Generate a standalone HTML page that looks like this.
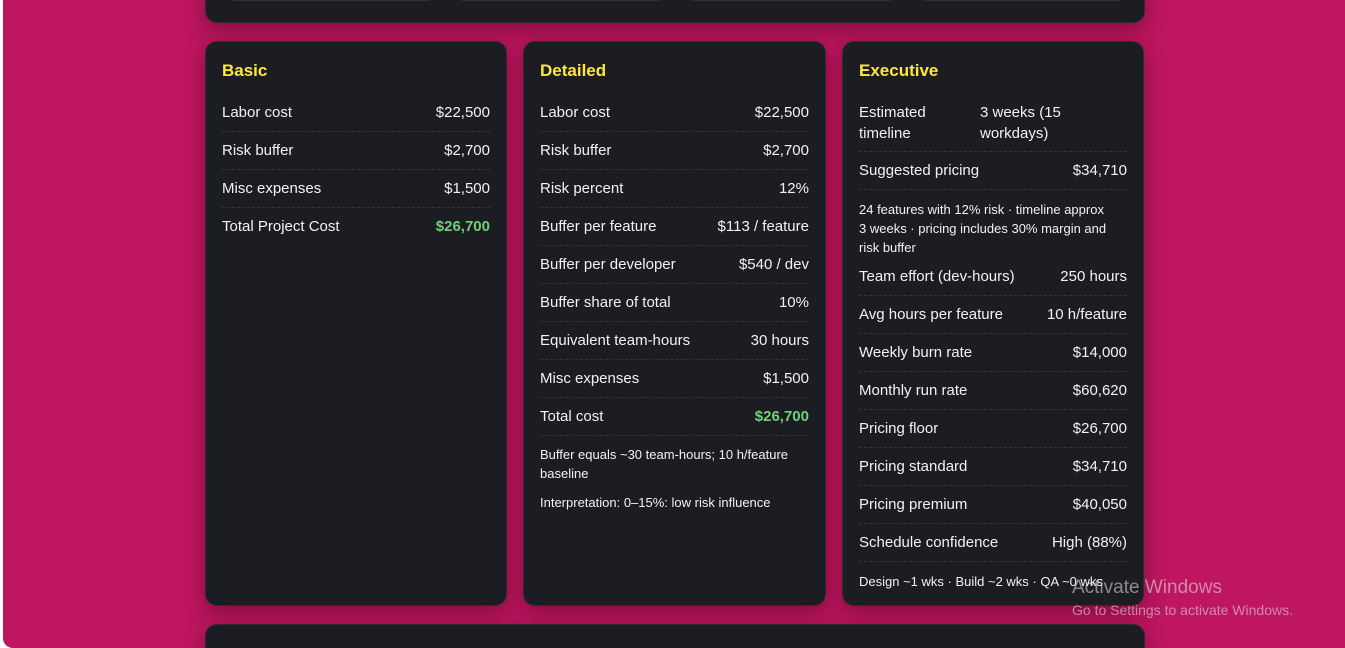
<!DOCTYPE html>
<html style="width:1345px;height:648px;overflow:hidden"><head><meta charset="utf-8"><style>
*{box-sizing:border-box;margin:0;padding:0}
body{width:1345px;height:648px;overflow:hidden;background:#fff;font-family:"Segoe UI","Liberation Sans",sans-serif;color:#f2f2f2;position:relative}
.bg{position:absolute;left:3px;top:0;right:0;bottom:0;background:#be1660;border-radius:0 0 0 10px}
.card{position:absolute;background:#1c1d22;border:1px solid #2c2d33;border-radius:12px;box-shadow:0 6px 22px rgba(60,0,20,.45)}
.pill{position:absolute;height:25px;border:1px solid #2e3036;border-radius:10px;background:#1c1d22}
h3{position:absolute;left:16px;top:19px;font-size:17px;font-weight:bold;color:#ffe63b}
.r{position:absolute;left:16px;right:16px;height:38px;display:flex;justify-content:space-between;align-items:center;font-size:15px;border-bottom:1px dashed #33353b;white-space:nowrap}
.r.nb{border-bottom:none}
.g{color:#6fd07a;font-weight:bold}
.n{position:absolute;left:16px;right:16px;font-size:13px;line-height:19px}
</style></head><body>
<div class="bg"></div>
<div class="card" style="left:205px;top:-20px;width:940px;height:43px">
<div class="pill" style="left:18px;width:213px;top:0;margin-top:-5px"></div>
<div class="pill" style="left:248px;width:213px;top:0;margin-top:-5px"></div>
<div class="pill" style="left:479px;width:213px;top:0;margin-top:-5px"></div>
<div class="pill" style="left:710px;width:213px;top:0;margin-top:-5px"></div>
</div>

<div class="card" style="left:205px;top:41px;width:302px;height:565px">
<h3>Basic</h3>
<div class="r" style="top:52px"><span>Labor cost</span><span>$22,500</span></div>
<div class="r" style="top:90px"><span>Risk buffer</span><span>$2,700</span></div>
<div class="r" style="top:128px"><span>Misc expenses</span><span>$1,500</span></div>
<div class="r nb" style="top:165px"><span>Total Project Cost</span><span class="g">$26,700</span></div>
</div>

<div class="card" style="left:523px;top:41px;width:303px;height:565px">
<h3>Detailed</h3>
<div class="r" style="top:52px"><span>Labor cost</span><span>$22,500</span></div>
<div class="r" style="top:90px"><span>Risk buffer</span><span>$2,700</span></div>
<div class="r" style="top:128px"><span>Risk percent</span><span>12%</span></div>
<div class="r" style="top:166px"><span>Buffer per feature</span><span>$113 / feature</span></div>
<div class="r" style="top:204px"><span>Buffer per developer</span><span>$540 / dev</span></div>
<div class="r" style="top:242px"><span>Buffer share of total</span><span>10%</span></div>
<div class="r" style="top:280px"><span>Equivalent team-hours</span><span>30 hours</span></div>
<div class="r" style="top:318px"><span>Misc expenses</span><span>$1,500</span></div>
<div class="r" style="top:356px"><span>Total cost</span><span class="g">$26,700</span></div>
<div class="n" style="top:403px">Buffer equals ~30 team-hours; 10 h/feature baseline</div>
<div class="n" style="top:451px">Interpretation: 0–15%: low risk influence</div>
</div>

<div class="card" style="left:842px;top:41px;width:302px;height:565px">
<h3>Executive</h3>
<div class="r" style="top:52px;height:58px;justify-content:flex-start;align-items:center;white-space:normal;line-height:21px"><span style="width:121px">Estimated timeline</span><span style="width:140px">3 weeks (15 workdays)</span></div>
<div class="r" style="top:110px"><span>Suggested pricing</span><span>$34,710</span></div>
<div class="n" style="top:158px;right:32px">24 features with 12% risk · timeline approx 3 weeks · pricing includes 30% margin and risk buffer</div>
<div class="r" style="top:216px"><span>Team effort (dev-hours)</span><span>250 hours</span></div>
<div class="r" style="top:254px"><span>Avg hours per feature</span><span>10 h/feature</span></div>
<div class="r" style="top:292px"><span>Weekly burn rate</span><span>$14,000</span></div>
<div class="r" style="top:330px"><span>Monthly run rate</span><span>$60,620</span></div>
<div class="r" style="top:368px"><span>Pricing floor</span><span>$26,700</span></div>
<div class="r" style="top:406px"><span>Pricing standard</span><span>$34,710</span></div>
<div class="r" style="top:444px"><span>Pricing premium</span><span>$40,050</span></div>
<div class="r" style="top:482px"><span>Schedule confidence</span><span>High (88%)</span></div>
<div class="n" style="top:530px">Design ~1 wks · Build ~2 wks · QA ~0 wks</div>
</div>

<div class="card" style="left:205px;top:624px;width:940px;height:40px;border-radius:12px 12px 0 0"></div>
<div style="position:absolute;left:1072px;top:577px;font-size:19px;color:rgba(230,230,230,.55)">Activate Windows</div>
<div style="position:absolute;left:1072px;top:602px;font-size:14px;color:rgba(230,230,230,.55)">Go to Settings to activate Windows.</div>
</body></html>
